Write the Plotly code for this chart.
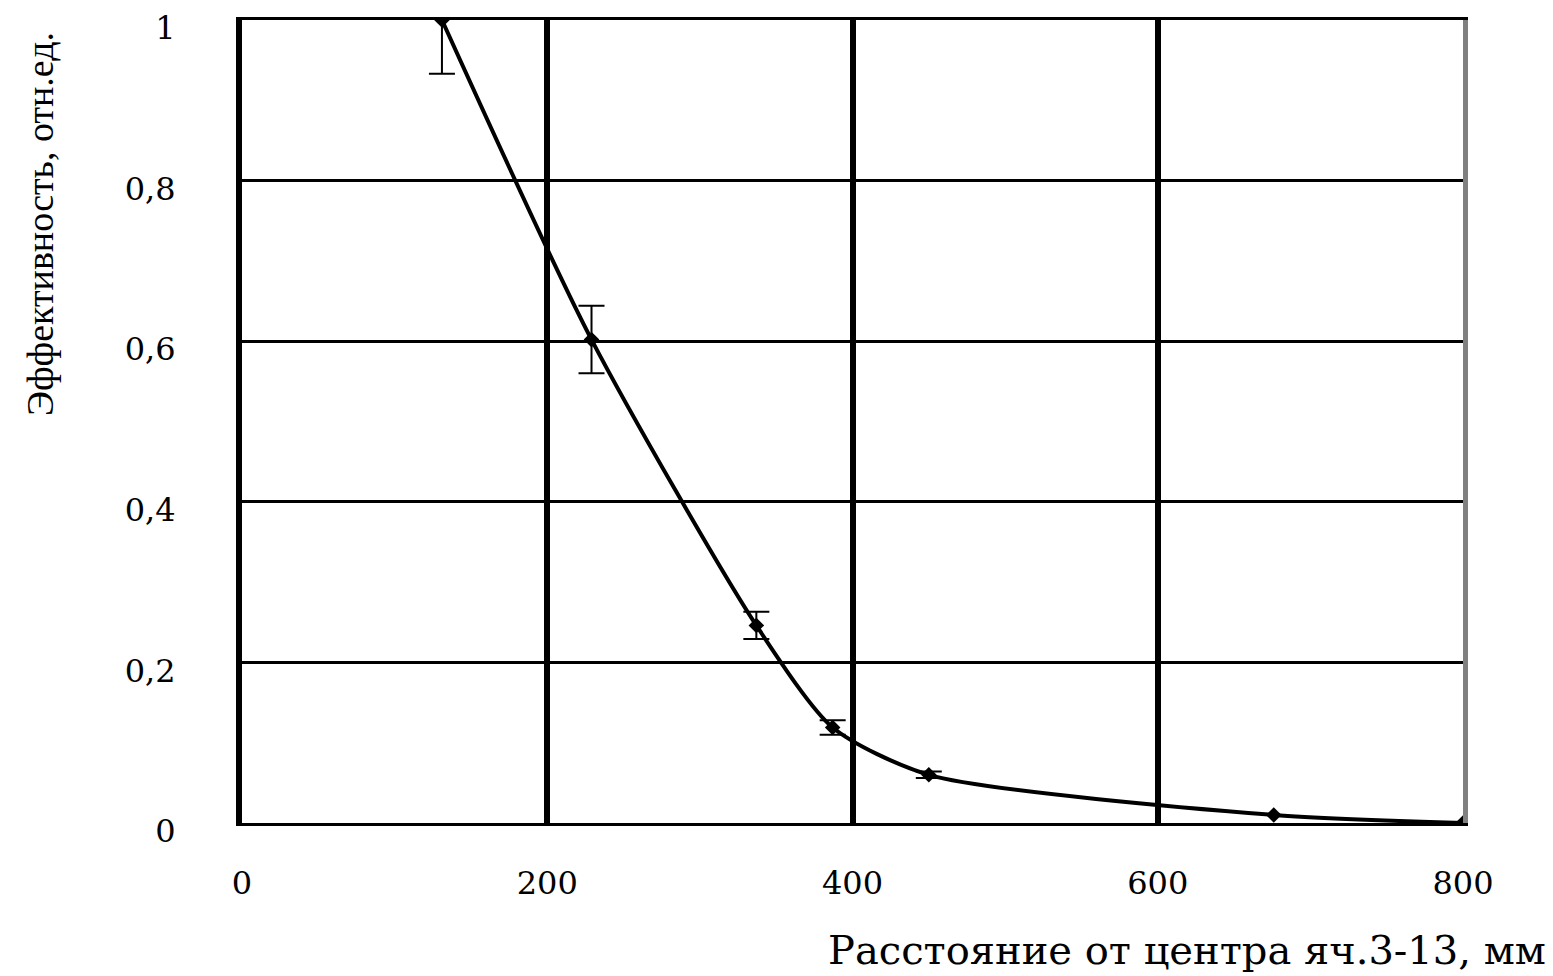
import plotly.graph_objects as go

# Data
distance_mm = [131, 229, 337, 387, 450, 676, 800]
efficiency = [1.0, 0.602, 0.246, 0.119, 0.060, 0.010, 0.0]
eff_error = [0.067, 0.042, 0.017, 0.009, 0.004, 0.0, 0.0]

x_tickvals = [0, 200, 400, 600, 800]
x_ticktext = ["0", "200", "400", "600", "800"]
y_tickvals = [0, 0.2, 0.4, 0.6, 0.8, 1.0]
y_ticktext = ["0", "0,2", "0,4", "0,6", "0,8", "1"]

x_title = "Расстояние от центра яч.3-13, мм"
y_title = "Эффективность, отн.ед."

tick_font = dict(family="DejaVu Serif", size=32, color="black")

fig = go.Figure()
fig.add_trace(go.Scatter(
    x=distance_mm, y=efficiency,
    mode="lines+markers",
    line=dict(color="black", width=4, shape="spline", smoothing=0.7),
    marker=dict(symbol="diamond", size=12, color="black"),
    error_y=dict(type="data", array=eff_error, visible=True,
                 color="black", thickness=2, width=13),
    showlegend=False,
    cliponaxis=True,
))
# empty helper trace so the right-hand frame axis is drawn
fig.add_trace(go.Scatter(x=[], y=[], yaxis="y2", showlegend=False,
                         hoverinfo="skip"))

fig.update_layout(
    width=1553, height=976,
    margin=dict(l=234, r=98, t=12, b=161),
    paper_bgcolor="white", plot_bgcolor="white",
    xaxis=dict(
        range=[0, 800], tickvals=x_tickvals, ticktext=x_ticktext,
        showgrid=True, gridcolor="black", gridwidth=6,
        showline=True, linecolor="black", linewidth=3, mirror=True,
        zeroline=False, ticks="", tickfont=tick_font,
        ticklabelstandoff=30, automargin=False, ticklabeloverflow="allow",
    ),
    yaxis=dict(
        range=[0, 1], tickvals=y_tickvals, ticktext=y_ticktext,
        showgrid=True, gridcolor="black", gridwidth=3,
        showline=True, linecolor="black", linewidth=6,
        zeroline=False, ticks="", tickfont=tick_font,
        ticklabelstandoff=54, ticklabelshift=8,
        automargin=False, ticklabeloverflow="allow",
    ),
    yaxis2=dict(
        overlaying="y", side="right", range=[0, 1],
        showline=True, linecolor="#808080", linewidth=5,
        showgrid=False, showticklabels=False, zeroline=False, ticks="",
        automargin=False,
    ),
    annotations=[
        dict(text=x_title, xref="paper", yref="paper", x=1.0696, y=-0.158,
             xanchor="right", yanchor="middle", showarrow=False,
             font=dict(family="DejaVu Serif", size=40, color="black")),
        dict(text=y_title, xref="paper", yref="paper", x=-0.165, y=0.987,
             xanchor="center", yanchor="top", textangle=-90, showarrow=False,
             font=dict(family="Liberation Serif", size=38, color="black")),
    ],
)

fig.write_html("out.html")
